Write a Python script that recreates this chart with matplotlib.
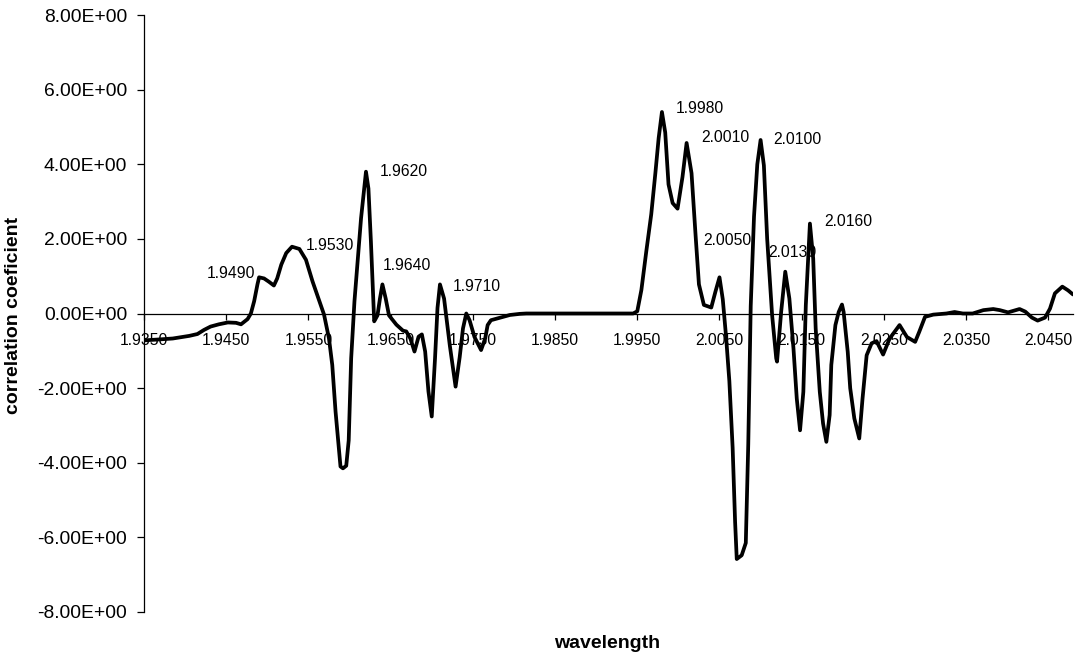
import numpy as np
import matplotlib
matplotlib.use("Agg")
import matplotlib.pyplot as plt

plt.rcParams['font.family'] = ['Liberation Sans', 'DejaVu Sans']

# correlation coefficient against wavelength
wavelength = [
    1.9350, 1.9365, 1.9385, 1.9405, 1.9415, 1.9423, 1.9431, 1.9441, 1.9452, 1.9462,
    1.9468, 1.9476, 1.9480, 1.9484, 1.9488, 1.9490, 1.9496, 1.9502, 1.9508, 1.9512,
    1.9517, 1.9523, 1.9530, 1.9539, 1.9547, 1.9555, 1.9565, 1.9569, 1.9575, 1.9579,
    1.9583, 1.9586, 1.9589, 1.9592, 1.9596, 1.9599, 1.9602, 1.9606, 1.9610, 1.9614,
    1.9620, 1.9623, 1.9626, 1.9630, 1.9634, 1.9637, 1.9640, 1.9644, 1.9648, 1.9657,
    1.9665, 1.9669, 1.9674, 1.9679, 1.9684, 1.9688, 1.9692, 1.9696, 1.9700, 1.9704,
    1.9707, 1.9710, 1.9715, 1.9722, 1.9729, 1.9734, 1.9738, 1.9742, 1.9746, 1.9752,
    1.9760, 1.9765, 1.9768, 1.9772, 1.9782, 1.9795, 1.9807, 1.9815, 1.9945, 1.9950,
    1.9955, 1.9961, 1.9967, 1.9972, 1.9976, 1.9980, 1.9984, 1.9988, 1.9993, 1.9999,
    2.0005, 2.0010, 2.0016, 2.0021, 2.0025, 2.0031, 2.0040, 2.0045, 2.0050, 2.0054,
    2.0058, 2.0062, 2.0066, 2.0069, 2.0071, 2.0077, 2.0082, 2.0085, 2.0088, 2.0092,
    2.0096, 2.0100, 2.0104, 2.0108, 2.0114, 2.0119, 2.0120, 2.0125, 2.0130, 2.0135,
    2.0140, 2.0144, 2.0148, 2.0152, 2.0155, 2.0158, 2.0160, 2.0164, 2.0167, 2.0172,
    2.0176, 2.0180, 2.0184, 2.0186, 2.0191, 2.0195, 2.0199, 2.0201, 2.0206, 2.0209,
    2.0214, 2.0220, 2.0224, 2.0229, 2.0235, 2.0241, 2.0249, 2.0257, 2.0269, 2.0278,
    2.0288, 2.0293, 2.0300, 2.0310, 2.0326, 2.0336, 2.0346, 2.0358, 2.0371, 2.0383,
    2.0391, 2.0401, 2.0415, 2.0422, 2.0430, 2.0437, 2.0446, 2.0452, 2.0458, 2.0467,
    2.0474, 2.0480,
]
coefficient = [
    -0.72, -0.70, -0.67, -0.60, -0.55, -0.44, -0.35, -0.29, -0.24, -0.25,
    -0.29, -0.15, 0.00, 0.33, 0.78, 0.97, 0.94, 0.85, 0.75, 0.94,
    1.31, 1.62, 1.79, 1.73, 1.44, 0.86, 0.23, -0.03, -0.67, -1.38,
    -2.63, -3.35, -4.10, -4.15, -4.08, -3.40, -1.20, 0.33, 1.45, 2.55,
    3.80, 3.35, 1.93, -0.21, -0.05, 0.40, 0.78, 0.40, -0.05, -0.30,
    -0.46, -0.48, -0.67, -1.02, -0.62, -0.56, -1.02, -2.09, -2.76, -1.20,
    0.15, 0.78, 0.40, -0.86, -1.96, -1.17, -0.40, 0.00, -0.18, -0.63,
    -0.98, -0.67, -0.31, -0.18, -0.12, -0.04, -0.01, 0.00, 0.00, 0.06,
    0.63, 1.67, 2.66, 3.76, 4.70, 5.40, 4.85, 3.46, 2.96, 2.81,
    3.66, 4.57, 3.76, 2.07, 0.78, 0.23, 0.16, 0.58, 0.97, 0.38,
    -0.62, -1.81, -3.60, -5.59, -6.58, -6.48, -6.15, -3.50, 0.20, 2.60,
    4.00, 4.65, 3.97, 2.00, -0.04, -1.20, -1.29, 0.04, 1.12, 0.40,
    -0.94, -2.28, -3.13, -2.10, 0.22, 1.56, 2.41, 1.47, -0.40, -2.10,
    -2.95, -3.44, -2.72, -1.38, -0.31, 0.04, 0.24, 0.04, -1.03, -2.00,
    -2.81, -3.35, -2.28, -1.12, -0.80, -0.74, -1.10, -0.67, -0.31, -0.63,
    -0.76, -0.49, -0.09, -0.03, 0.00, 0.04, 0.00, 0.00, 0.09, 0.12,
    0.09, 0.03, 0.12, 0.05, -0.11, -0.19, -0.11, 0.13, 0.54, 0.72,
    0.62, 0.51,
]

# labelled peaks and where their labels sit (pixels from the point)
peak_wavelengths = [1.9490, 1.9530, 1.9620, 1.9640, 1.9710,
                    1.9980, 2.0010, 2.0050, 2.0100, 2.0130, 2.0160]
label_offsets = [(-28, 4), (38, 1), (38, 0), (25, 19), (37, -2),
                 (38, 4), (39, 5), (8, 37), (37, 0), (7, 19), (38, 2)]

x_ticks = [1.9350 + 0.01 * k for k in range(12)]
y_ticks = [-8, -6, -4, -2, 0, 2, 4, 6, 8]

W, H = 1079, 658
fig = plt.figure(figsize=(W / 100, H / 100), dpi=100)
ax = fig.add_axes([144 / W, 1 - 612 / H, (1073 - 144) / W, (612 - 15) / H])

ax.plot(wavelength, coefficient, color='black', lw=2.7,
        solid_joinstyle='round', solid_capstyle='round')

ax.set_xlim(1.935, 2.048)
ax.set_ylim(-8, 8)

for s in ['top', 'right']:
    ax.spines[s].set_visible(False)
ax.spines['bottom'].set_position(('data', 0))
ax.spines['bottom'].set_linewidth(0.9)
ax.spines['left'].set_linewidth(0.9)

ax.set_xticks(x_ticks)
ax.set_xticklabels([f'{t:.4f}' for t in x_ticks])
ax.set_yticks(y_ticks)
ax.set_yticklabels([f'{t:.2E}' for t in y_ticks])
ax.tick_params(axis='x', direction='out', length=4, width=0.9, pad=10, labelsize=11.3)
ax.tick_params(axis='y', direction='out', length=5, width=0.9, pad=7, labelsize=13.9)

wl = np.array(wavelength)
for w, (dx, dy) in zip(peak_wavelengths, label_offsets):
    i = int(np.argmin(np.abs(wl - w)))
    ax.annotate(f'{w:.4f}', xy=(w, coefficient[i]), xytext=(dx, dy),
                textcoords='offset pixels', ha='center', va='center', fontsize=11.3)

fig.text(14 / W, 1 - 315 / H, 'correlation coeficient', rotation=90,
         ha='center', va='center', fontsize=14, fontweight='bold')
fig.text(607 / W, 1 - 643 / H, 'wavelength',
         ha='center', va='center', fontsize=14, fontweight='bold')

fig.savefig('out.png', dpi=100)
